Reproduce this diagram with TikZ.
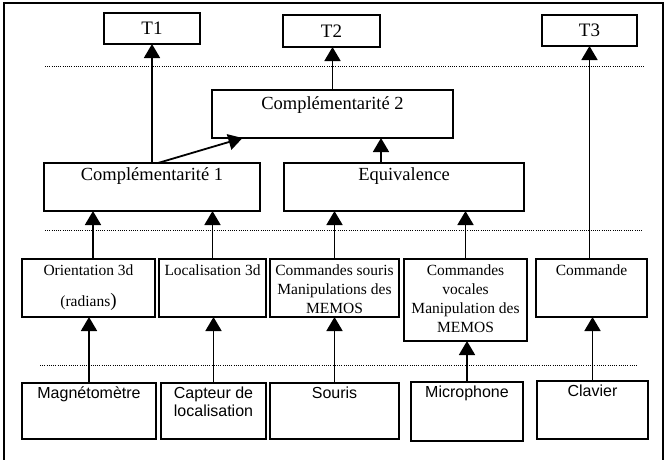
\documentclass[tikz,border=0pt]{standalone}
\usepackage{fontspec}
\setmainfont{Liberation Serif}
\setsansfont{Liberation Sans}
\usetikzlibrary{arrows.meta}
\tikzset{
  boxs/.style={draw, line width=1.8pt, inner sep=0pt, outer sep=0pt},
  arr/.style={line width=1.8pt, -{Triangle[length=14pt,width=16pt]}},
  dots/.style={line width=1pt, dash pattern=on 1pt off 1.2pt},
  lblT/.style={font=\fontsize{19}{22}\selectfont, inner sep=0pt},
  lblA/.style={font=\fontsize{18.5}{22}\selectfont, inner sep=0pt, anchor=base},
  lblB/.style={font=\fontsize{15.5}{19}\selectfont, inner sep=0pt, anchor=base},
  lblC/.style={font=\sffamily\fontsize{16}{18}\selectfont, inner sep=0pt, anchor=base},
}
\newcommand\bx[5]{\node[boxs, minimum width={(#4)-(#2)}, minimum height={(#5)-(#3)}] (#1) at ({((#2)+(#4))/2},{((#3)+(#5))/2}) {};}
\newcommand\tl[1]{\begin{tabular}[t]{@{}c@{}}#1\end{tabular}}
\begin{document}
\begin{tikzpicture}[x=1pt, y=-1pt]
\useasboundingbox (0,0) rectangle (668,459);
\draw[line width=1.8pt] (4,3) rectangle (663,461);
% boxes
\bx{T1}{104}{13}{200}{44}
\bx{T2}{283}{15}{380}{47}
\bx{T3}{542}{15}{637}{46}
\bx{C2}{212}{90}{453}{138}
\bx{C1}{44}{163}{260}{211}
\bx{Eq}{284}{163}{524}{211}
\bx{Or}{22}{259}{155}{317}
\bx{Lo}{159}{259}{266}{317}
\bx{Cs}{270}{259}{399}{317}
\bx{Cv}{404}{259}{527}{341}
\bx{Cm}{536}{259}{647}{317}
\bx{Ma}{22}{383}{156}{439}
\bx{Ca}{161}{383}{266}{439}
\bx{So}{270}{383}{399}{439}
\bx{Mi}{411}{382}{523}{441}
\bx{Cl}{537}{381}{648}{439}
% texts
\node[lblT] (T1t) at (T1.center) {T1};
\node[lblT] (T2t) at (T2.center) {T2};
\node[lblT] (T3t) at (T3.center) {T3};
\node[lblA] (C2t) at ([yshift=-19pt]C2.north) {Complémentarité 2};
\node[lblA] (C1t) at ([yshift=-17pt]C1.north) {Complémentarité 1};
\node[lblA] (Eqt) at ([yshift=-17pt]Eq.north) {Equivalence};
\node[lblB] (Ort) at ([yshift=-16pt]Or.north) {\tl{Orientation 3d\\[12pt](radians{\fontsize{19}{19}\selectfont)}}};
\node[lblB] (Lot) at ([yshift=-16pt]Lo.north) {Localisation 3d};
\node[lblB] (Cst) at ([yshift=-16pt]Cs.north) {\tl{Commandes souris\\Manipulations des\\MEMOS}};
\node[lblB] (Cvt) at ([yshift=-16pt]Cv.north) {\tl{Commandes\\vocales\\Manipulation des\\MEMOS}};
\node[lblB] (Cmt) at ([yshift=-16pt]Cm.north) {Commande};
\node[lblC] (Mat) at ([yshift=-15pt]Ma.north) {Magnétomètre};
\node[lblC] (Cat) at ([yshift=-15pt]Ca.north) {\tl{Capteur de\\localisation}};
\node[lblC] (Sot) at ([yshift=-15pt]So.north) {Souris};
\node[lblC] (Mit) at ([yshift=-15pt]Mi.north) {Microphone};
\node[lblC] (Clt) at ([yshift=-15pt]Cl.north) {Clavier};
% dotted separators
\draw[dots] (45,66) -- (645,66);
\draw[dots] (45,230) -- (642,230);
\draw[dots] (40,365) -- (638,365);
% arrows
\draw[arr] (C1.north) -- (T1.south);
\draw[arr] ([xshift=6pt]C1.north) -- ([xshift=-90pt]C2.south);
\draw[arr] (C2.north) -- (C2.north |- T2.south);
\draw[arr] ([xshift=-23pt]Eq.north) -- ([xshift=-23pt]Eq.north |- C2.south);
\draw[arr] (Cm.north -| T3.south) -- (T3.south);
\draw[arr] (Or.north -| 93,0) -- (C1.south -| 93,0);
\draw[arr] (Lo.north) -- (Lo.north |- C1.south);
\draw[arr] (Cs.north) -- (Cs.north |- Eq.south);
\draw[arr] (Cv.north) -- (Cv.north |- Eq.south);
\draw[arr] (Ma.north) -- (Ma.north |- Or.south);
\draw[arr] (Ca.north) -- (Ca.north |- Lo.south);
\draw[arr] (So.north) -- (So.north |- Cs.south);
\draw[arr] (Mi.north) -- (Mi.north |- Cv.south);
\draw[arr] (Cl.north) -- (Cl.north |- Cm.south);
\end{tikzpicture}
\end{document}
